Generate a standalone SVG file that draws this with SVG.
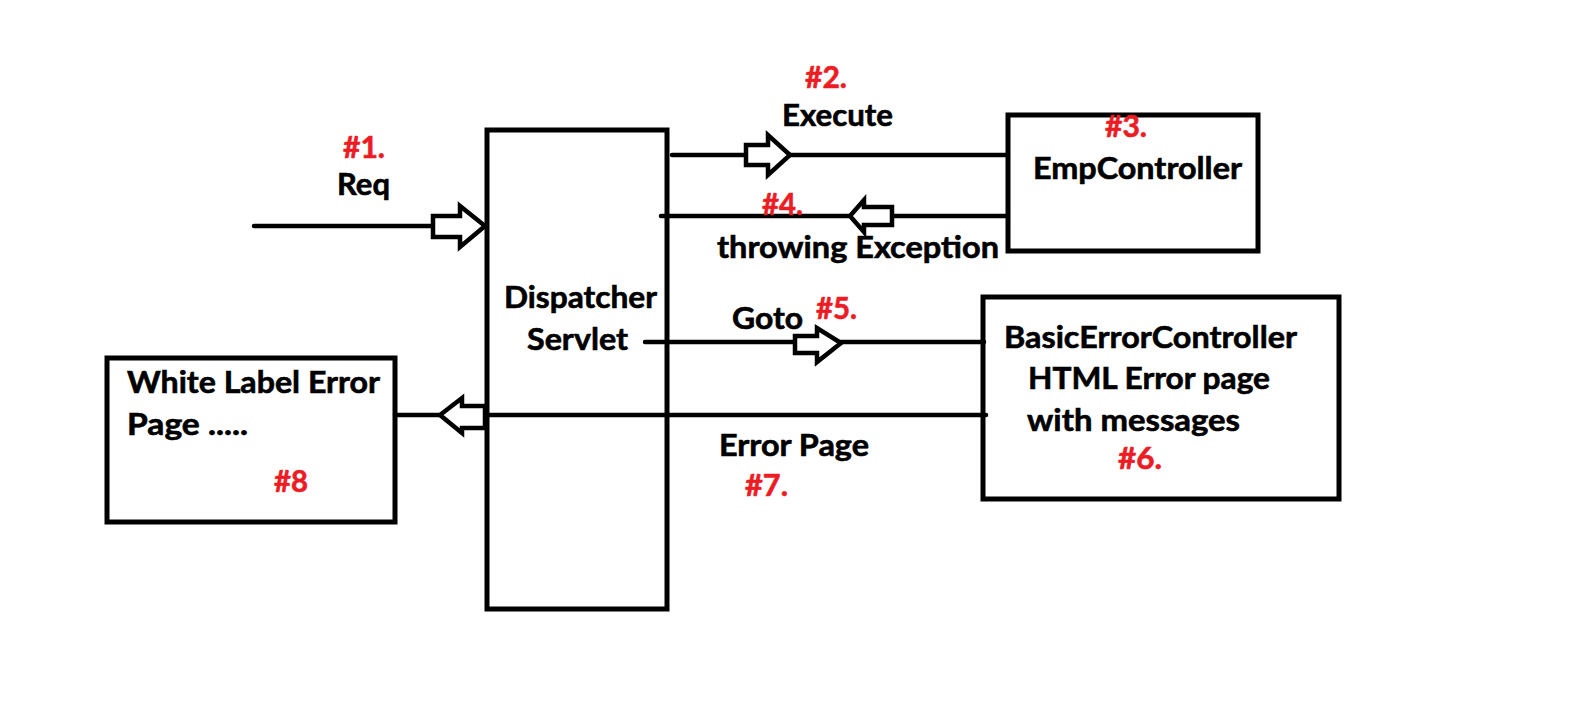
<svg xmlns="http://www.w3.org/2000/svg" width="1574" height="722" viewBox="0 0 1574 722">
<style>
.box{fill:none;stroke:#000;stroke-width:5}
.ln{stroke:#000;stroke-width:4.5;stroke-linecap:round;fill:none}
.ar{fill:#fff;stroke:#000;stroke-width:4.5;stroke-linejoin:miter}
.t{font-family:Lato,"Open Sans","Liberation Sans",sans-serif;font-weight:700;font-size:30px;fill:#000;stroke:#000;stroke-width:0.6}
.r{font-family:Lato,"Open Sans","Liberation Sans",sans-serif;font-weight:700;font-size:30px;fill:#ED1C24;stroke:#ED1C24;stroke-width:0.6}
</style>
<rect width="1574" height="722" fill="#fff"/>
<g id="dispatcher-servlet">
<rect class="box" x="487" y="130" width="180" height="479"/>
<text class="t" x="504" y="308" textLength="153" lengthAdjust="spacingAndGlyphs">Dispatcher</text>
<text class="t" x="527" y="350" textLength="101" lengthAdjust="spacingAndGlyphs">Servlet</text>
</g>
<g id="emp-controller">
<rect class="box" x="1008" y="115" width="250" height="136"/>
<text class="r" x="1105" y="137" textLength="42" lengthAdjust="spacingAndGlyphs">#3.</text>
<text class="t" x="1033" y="179" textLength="209" lengthAdjust="spacingAndGlyphs">EmpController</text>
</g>
<g id="basic-error-controller">
<rect class="box" x="983" y="297" width="356" height="202"/>
<text class="t" x="1004" y="348" textLength="293" lengthAdjust="spacingAndGlyphs">BasicErrorController</text>
<text class="t" x="1028" y="389" textLength="242" lengthAdjust="spacingAndGlyphs">HTML Error page</text>
<text class="t" x="1027" y="431" textLength="213" lengthAdjust="spacingAndGlyphs">with messages</text>
<text class="r" x="1118" y="469" textLength="44" lengthAdjust="spacingAndGlyphs">#6.</text>
</g>
<g id="white-label-error-page">
<rect class="box" x="107" y="358" width="288" height="164"/>
<text class="t" x="127" y="393" textLength="253" lengthAdjust="spacingAndGlyphs">White Label Error</text>
<text class="t" x="127" y="435" textLength="121" lengthAdjust="spacingAndGlyphs">Page .....</text>
<text class="r" x="274" y="492" textLength="34" lengthAdjust="spacingAndGlyphs">#8</text>
</g>
<g id="connectors">
<line class="ln" x1="254" y1="226" x2="435" y2="226"/>
<line class="ln" x1="672" y1="155" x2="1008" y2="155"/>
<line class="ln" x1="661" y1="216" x2="1008" y2="216"/>
<line class="ln" x1="645" y1="342" x2="984" y2="342"/>
<line class="ln" x1="395" y1="415" x2="986" y2="415"/>
<polygon class="ar" points="433,216 460,216 460,206 485,226 460,247 460,237 433,237"/>
<polygon class="ar" points="746,145 768,145 768,135 790,155 768,175 768,165 746,165"/>
<polygon class="ar" points="795,336 817,336 817,328 841,343 817,362 817,353 795,353"/>
<polygon class="ar" points="892,207 864,207 864,200 850,216 864,232 864,225 892,225"/>
<polygon class="ar" points="485,406 462,406 462,398 440,415 462,433 462,428 485,428"/>
<text class="r" x="343" y="158" textLength="42" lengthAdjust="spacingAndGlyphs">#1.</text>
<text class="t" x="337" y="195" textLength="53" lengthAdjust="spacingAndGlyphs">Req</text>
<text class="r" x="805" y="88" textLength="42" lengthAdjust="spacingAndGlyphs">#2.</text>
<text class="t" x="782" y="126" textLength="111" lengthAdjust="spacingAndGlyphs">Execute</text>
<text class="r" x="762" y="215" textLength="41" lengthAdjust="spacingAndGlyphs">#4.</text>
<text class="t" x="717" y="258" textLength="282" lengthAdjust="spacingAndGlyphs">throwing Exception</text>
<text class="t" x="732" y="329" textLength="71" lengthAdjust="spacingAndGlyphs">Goto</text>
<text class="r" x="816" y="319" textLength="41" lengthAdjust="spacingAndGlyphs">#5.</text>
<text class="t" x="719" y="456" textLength="150" lengthAdjust="spacingAndGlyphs">Error Page</text>
<text class="r" x="745" y="496" textLength="43" lengthAdjust="spacingAndGlyphs">#7.</text>
</g>
</svg>
